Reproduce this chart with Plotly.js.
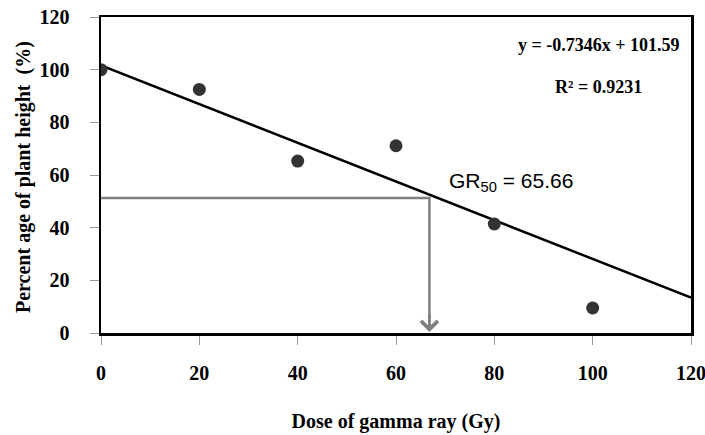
<!DOCTYPE html>
<html>
<head>
<meta charset="utf-8">
<script src="https://cdn.plot.ly/plotly-3.0.1.min.js"></script>
<style>body{margin:0;padding:0;background:#fff;}#chart{width:705px;height:435px;}</style>
</head>
<body>
<div id="chart"></div>
<script>
// Data
const doseGy = [0, 20, 40, 60, 80, 100];
const plantHeightPct = [100, 92.5, 65.3, 71.1, 41.4, 9.5];
const trendSlope = -0.7346;
const trendIntercept = 101.59;
const trendX = [0, 120];
const gr50LineX = [0, 66.8, 66.8];
const gr50LineY = [51.3, 51.3, 2];
const arrowTip = [66.8, 0.4];
const xTicks = [0, 20, 40, 60, 80, 100, 120];
const yTicks = [0, 20, 40, 60, 80, 100, 120];

const trendY = trendX.map(x => trendSlope * x + trendIntercept);
const serif = 'Liberation Serif, Times New Roman, serif';

const traces = [
  {x: gr50LineX, y: gr50LineY, mode: 'lines', line: {color: '#808080', width: 2.5}, hoverinfo: 'skip', showlegend: false},
  {x: trendX, y: trendY, mode: 'lines', line: {color: '#000', width: 2.5}, showlegend: false},
  {x: doseGy, y: plantHeightPct, mode: 'markers', marker: {color: '#333333', size: 13}, showlegend: false}
];

const layout = {
  width: 705, height: 435,
  margin: {l: 101, r: 14, t: 17, b: 102},
  paper_bgcolor: '#fff', plot_bgcolor: '#fff',
  font: {family: serif, color: '#000'},
  xaxis: {
    range: [0, 120], tickvals: xTicks, ticktext: xTicks.map(String),
    showgrid: false, zeroline: false, showline: true, mirror: true, linecolor: '#000', linewidth: 2.5,
    ticks: 'outside', ticklen: 9, tickcolor: '#999', tickwidth: 1, ticklabelstandoff: 11,
    ticklabeloverflow: 'allow',
    tickfont: {family: serif, size: 20, color: '#000', weight: 'bold'},
    title: {text: '<b>Dose of gamma ray (Gy)</b>', font: {family: serif, size: 20, color: '#000'}, standoff: 32}
  },
  yaxis: {
    range: [0, 120], tickvals: yTicks, ticktext: yTicks.map(String),
    showgrid: false, zeroline: false, showline: true, mirror: true, linecolor: '#000', linewidth: 2.5,
    ticks: 'outside', ticklen: 9, tickcolor: '#999', tickwidth: 1, ticklabelstandoff: 16,
    ticklabeloverflow: 'allow',
    tickfont: {family: serif, size: 20, color: '#000', weight: 'bold'}
  },
  annotations: [
    {xref: 'paper', yref: 'paper', x: 0, y: 0.5, xshift: -78, yshift: -2, xanchor: 'center', yanchor: 'middle',
     textangle: -90, showarrow: false,
     text: '<b>Percent age of plant height\u00a0\u00a0(%)</b>', font: {family: serif, size: 20, color: '#000'}},
    {xref: 'paper', yref: 'paper', x: 0.985, y: 0.911, xanchor: 'right', yanchor: 'middle', showarrow: false,
     text: '<b>y = -0.7346x + 101.59</b>', font: {family: serif, size: 18, color: '#000'}},
    {xref: 'paper', yref: 'paper', x: 0.843, y: 0.78, xanchor: 'center', yanchor: 'middle', showarrow: false,
     text: '<b>R² = 0.9231</b>', font: {family: serif, size: 18, color: '#000'}},
    {xref: 'x', yref: 'y', x: 83.4, y: 57.5, xanchor: 'center', yanchor: 'middle', showarrow: false,
     text: 'GR<sub>50</sub> = 65.66', font: {family: 'Liberation Sans, Arial, sans-serif', size: 21, color: '#000'}},
    {xref: 'x', yref: 'y', x: arrowTip[0], y: arrowTip[1], ax: 0, ay: -20, axref: 'pixel', ayref: 'pixel', showarrow: true,
     arrowhead: 4, arrowsize: 1.3, arrowwidth: 2.5, arrowcolor: '#808080', text: ''}
  ]
};

Plotly.newPlot('chart', traces, layout, {displayModeBar: false, staticPlot: true});
</script>
</body>
</html>
